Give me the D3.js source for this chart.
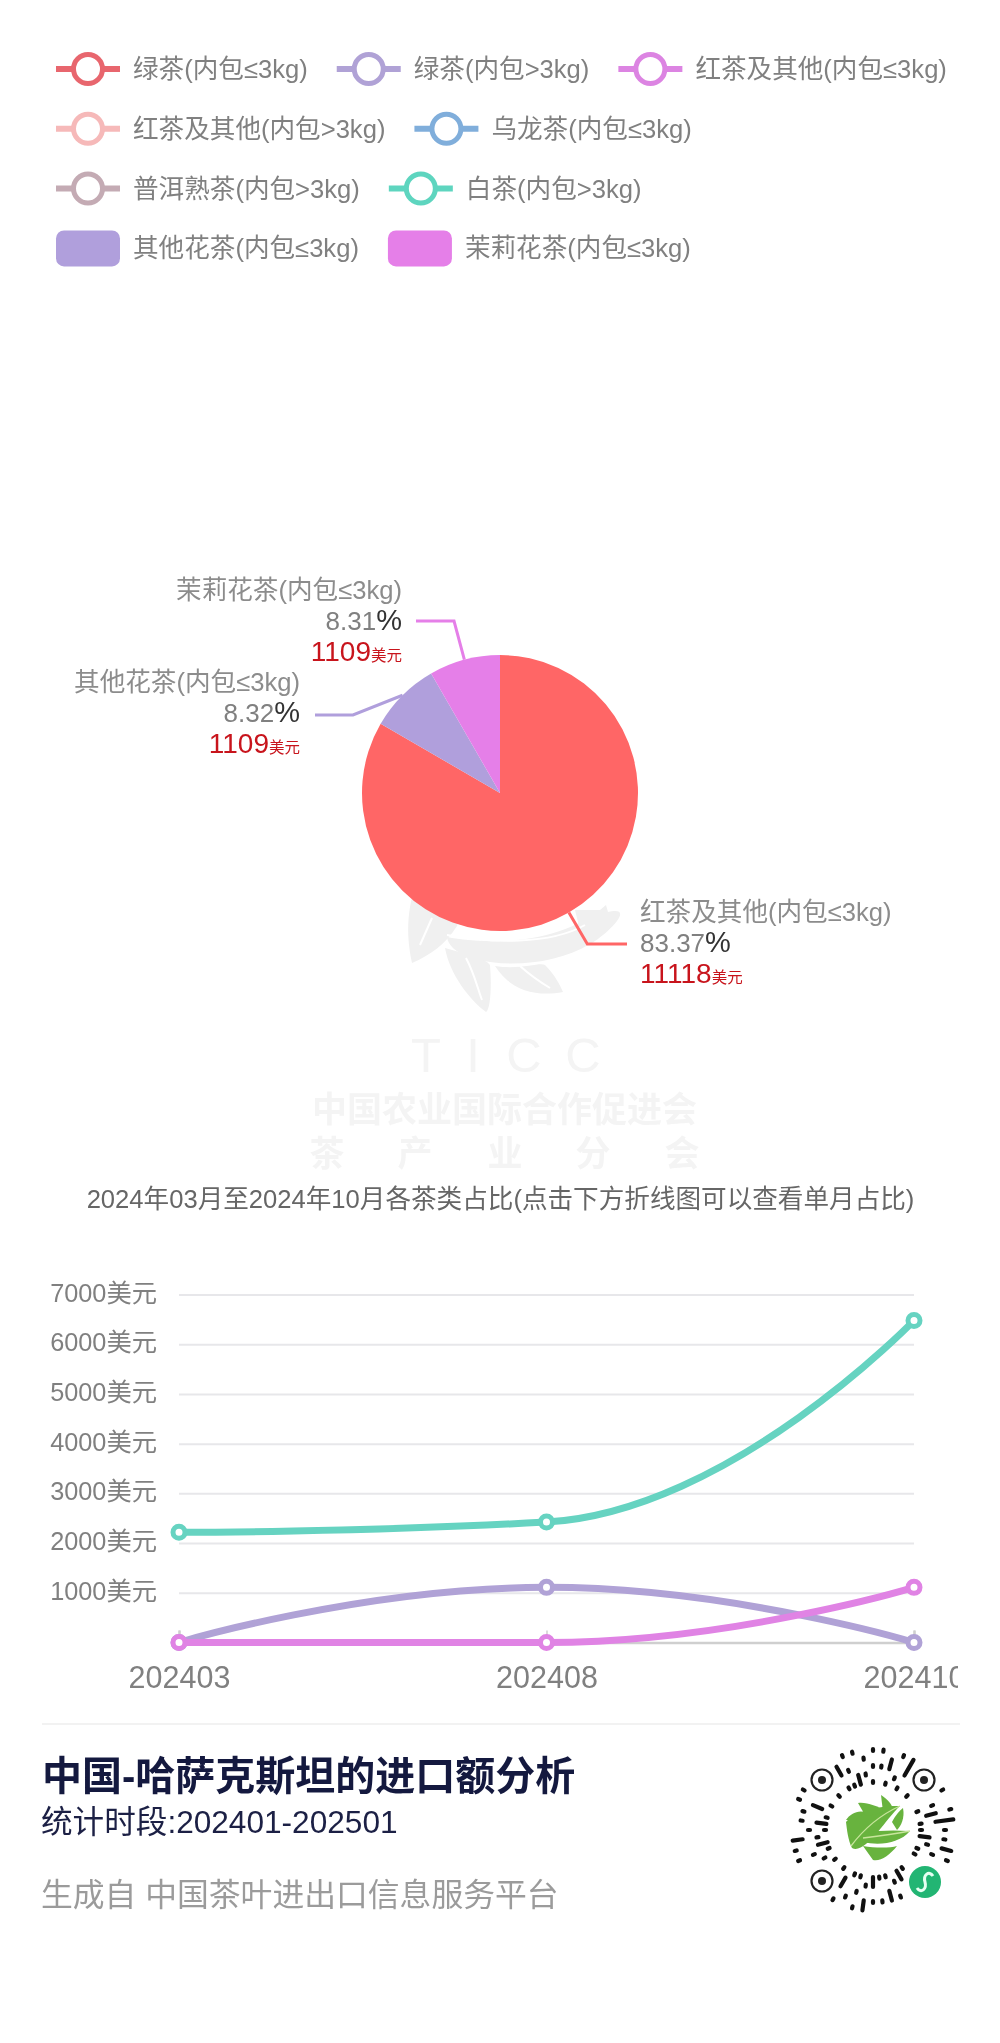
<!DOCTYPE html>
<html><head><meta charset="utf-8">
<script src="https://cdn.jsdelivr.net/npm/d3@7/dist/d3.min.js"></script>
<style>
html,body{margin:0;padding:0;background:#fff}
svg{display:block;filter:blur(0.6px)}
text{font-family:"Liberation Sans","Noto Sans CJK SC",sans-serif}
</style></head><body>
<svg id="c" width="1000" height="2043" viewBox="0 0 1000 2043"></svg>
<script>
// ---------- data ----------
const legendNames = ["绿茶(内包≤3kg)","绿茶(内包>3kg)","红茶及其他(内包≤3kg)","红茶及其他(内包>3kg)","乌龙茶(内包≤3kg)","普洱熟茶(内包>3kg)","白茶(内包>3kg)","其他花茶(内包≤3kg)","茉莉花茶(内包≤3kg)"];
const legendColors = ["#e8666e","#b0a2d6","#dc84e2","#f6b9b9","#80aedb","#c4abb4","#5ed5bf","#b09fdc","#e57fe8"];
const legendKinds = ["line","line","line","line","line","line","line","area","area"];

const pieNames = ["红茶及其他(内包≤3kg)","其他花茶(内包≤3kg)","茉莉花茶(内包≤3kg)"];
const pieValues = [11118,1109,1109];
const piePercents = ["83.37","8.32","8.31"];
const pieColors = ["#ff6666","#b09fdc","#e57fe8"];

const months = ["202403","202408","202410"];
const yTicks = [1000,2000,3000,4000,5000,6000,7000];
const tealSeries = [2216,2423,6479];
const purpleSeries = [0,1109,0];
const pinkSeries = [0,0,1109];

const chartTitle = "2024年03月至2024年10月各茶类占比(点击下方折线图可以查看单月占比)";
const footerTitle = "中国-哈萨克斯坦的进口额分析";
const footerPeriod = "统计时段:202401-202501";
const footerSource = "生成自 中国茶叶进出口信息服务平台";

// ---------- setup ----------
const svg = d3.select("#c");
const GREY = "#808080";

// Smooth curve whose tangents at inner points are clamped between the neighbouring values.
function curveClamped(context){
  const S = 0.5; let pts = [];
  const clamp = (v,a,b)=>Math.max(Math.min(a,b),Math.min(Math.max(a,b),v));
  return {
    areaStart(){}, areaEnd(){},
    lineStart(){ pts=[]; },
    point(x,y){ pts.push([x,y]); },
    lineEnd(){
      const n=pts.length; const before=[],after=[];
      pts.forEach((p,j)=>{
        if(j===0||j===n-1){ before[j]=p; after[j]=p; return; }
        const a=pts[j-1], b=pts[j+1];
        const lp=Math.abs(p[0]-a[0]), ln=Math.abs(b[0]-p[0]);
        const vx=b[0]-a[0]; let vy=b[1]-a[1];
        const rn=ln/(lp+ln), rp=lp/(lp+ln);
        let ny=clamp(p[1]+vy*S*rn,p[1],b[1]);
        let py=clamp(p[1]-(ny-p[1])*lp/ln,a[1],p[1]);
        ny=p[1]-(py-p[1])*ln/lp;
        before[j]=[p[0]-vx*S*rp,py]; after[j]=[p[0]+vx*S*rn,ny];
      });
      context.moveTo(pts[0][0],pts[0][1]);
      for(let j=0;j<n-1;j++){
        context.bezierCurveTo(after[j][0],after[j][1],before[j+1][0],before[j+1][1],pts[j+1][0],pts[j+1][1]);
      }
    }
  };
}

// ---------- legend ----------
(function(){
  const g = svg.append("g");
  let x = 56, row = 0;
  legendNames.forEach((name,i)=>{
    const t = g.append("text").attr("font-size",25.6).attr("fill",GREY).text(name);
    const w = t.node().getComputedTextLength();
    const kind = legendKinds[i];
    const iconW = 64, pad = kind==="area" ? 13 : 13;
    if (x + iconW + pad + w > 965 || (i>0 && kind!==legendKinds[i-1])) { x = 56; row++; }
    const cy = 69 + row*59.8;
    t.attr("x", x+iconW+pad).attr("y", cy+9);
    if (kind==="line"){
      g.append("line").attr("x1",x).attr("x2",x+iconW).attr("y1",cy).attr("y2",cy)
        .attr("stroke",legendColors[i]).attr("stroke-width",6);
      g.append("circle").attr("cx",x+iconW/2).attr("cy",cy).attr("r",14.5)
        .attr("fill","#fff").attr("stroke",legendColors[i]).attr("stroke-width",5);
    } else {
      g.append("rect").attr("x",x).attr("y",cy-18).attr("width",iconW).attr("height",36)
        .attr("rx",8).attr("fill",legendColors[i]);
    }
    x += iconW + pad + w + 29;
  });
})();

// ---------- watermark ----------
(function(){
  const g = svg.append("g");
  const wm = "#f0f0f0";
  const leaves = [
    "M412,963 C405,930 408,905 418,878 C440,900 465,915 457,926 C445,945 430,955 412,963 Z",
    "M447,937 C490,945 560,945 606,905 L608,912 C640,905 600,940 590,944 C555,965 505,968 470,958 C455,952 448,945 447,937 Z",
    "M445,948 C470,955 485,958 490,965 C492,990 490,1010 486,1012 C470,1000 450,975 445,948 Z",
    "M495,966 C520,970 540,962 545,965 C555,975 560,985 563,992 C535,997 510,990 495,966 Z",
    "M575,910 L607,910 C600,925 590,935 582,938 Z"
  ];
  g.selectAll("path.leaf").data(leaves).join("path").attr("d",d=>d).attr("fill",wm);
  ["M420,945 L432,918","M466,958 C475,975 478,990 482,1000","M520,966 C530,975 540,982 550,988","M447,935 C490,943 550,945 585,925"].forEach(d=>{
    g.append("path").attr("d",d).attr("fill","none").attr("stroke","#fff").attr("stroke-width",2);
  });
  [[426,"T"],[473,"I"],[524,"C"],[583,"C"]].forEach(([x,s])=>{
    g.append("text").attr("x",x).attr("y",1072).attr("text-anchor","middle")
      .attr("font-size",49).attr("fill","#f4f4f4").text(s);
  });
  g.append("text").attr("x",312).attr("y",1122).attr("font-size",35).attr("font-weight",700)
    .attr("fill","#f4f4f4").text("中国农业国际合作促进会");
  [[327,"茶"],[415,"产"],[505,"业"],[593,"分"],[682,"会"]].forEach(([x,s])=>{
    g.append("text").attr("x",x).attr("y",1166).attr("text-anchor","middle")
      .attr("font-size",35).attr("font-weight",700).attr("fill","#f4f4f4").text(s);
  });
})();

// ---------- pie ----------
(function(){
  const cx=500, cy=793, R=138;
  const g = svg.append("g");
  const arcs = d3.pie().sort(null)(pieValues);
  const arc = d3.arc().innerRadius(0).outerRadius(R);
  g.append("g").attr("transform",`translate(${cx},${cy})`)
    .selectAll("path").data(arcs).join("path").attr("d",arc)
    .attr("fill",(d,i)=>pieColors[i]);

  const layout = [
    {elbowY:944, elbowR:175, endX:627, textX:640, anchor:"start", base:921},
    {elbowY:715, elbowR:null,elbowX:353, endX:315, textX:300, anchor:"end", base:691},
    {elbowY:621, elbowR:178, endX:416, textX:402, anchor:"end", base:599}
  ];
  arcs.forEach((a,i)=>{
    const mid=(a.startAngle+a.endAngle)/2, L=layout[i];
    const sx=cx+R*Math.sin(mid), sy=cy-R*Math.cos(mid);
    const ex=L.elbowR ? cx+L.elbowR*Math.sin(mid) : L.elbowX;
    g.append("path").attr("d",d3.line()([[sx,sy],[ex,L.elbowY],[L.endX,L.elbowY]]))
      .attr("fill","none").attr("stroke",pieColors[i]).attr("stroke-width",3);
    g.append("text").attr("x",L.textX).attr("y",L.base).attr("text-anchor",L.anchor)
      .attr("font-size",25.6).attr("fill","#8c8c8c").text(pieNames[i]);
    const p=g.append("text").attr("x",L.textX).attr("y",L.base+31).attr("text-anchor",L.anchor);
    p.append("tspan").attr("font-size",26).attr("fill","#808080").text(piePercents[i]);
    p.append("tspan").attr("font-size",29).attr("fill","#333").text("%");
    const v=g.append("text").attr("x",L.textX).attr("y",L.base+62).attr("text-anchor",L.anchor);
    v.append("tspan").attr("font-size",28).attr("fill","#c8141c").text(pieValues[i]);
    v.append("tspan").attr("font-size",15.5).attr("fill","#c8141c").text("美元");
  });
})();

// ---------- chart title ----------
svg.append("text").attr("x",500.5).attr("y",1208).attr("text-anchor","middle")
  .attr("font-size",25.6).attr("fill","#666").text(chartTitle);

// ---------- line chart ----------
(function(){
  const x = d3.scalePoint().domain(months).range([179,914]);
  const y = d3.scaleLinear().domain([0,7000]).range([1642.5,1294.5]);
  svg.append("defs").append("clipPath").attr("id","clip").append("rect")
    .attr("x",0).attr("y",1250).attr("width",958).attr("height",470);
  const g = svg.append("g").attr("clip-path","url(#clip)");

  const grid = g.append("g").attr("transform","translate(179,0)")
    .call(d3.axisLeft(y).tickValues(yTicks).tickSize(-735).tickFormat(d=>d+"美元"));
  grid.select(".domain").remove();
  grid.selectAll(".tick line").attr("stroke","#e7e7ea").attr("stroke-width",2);
  grid.selectAll(".tick text").attr("x",-22).attr("dy","0.26em").attr("font-size",25.3)
    .attr("font-family",null).attr("fill",GREY);

  const xa = g.append("g").attr("transform","translate(0,1642.5)")
    .call(d3.axisBottom(x).tickSize(-12).tickPadding(24));
  xa.select(".domain").attr("stroke","#cfcfcf").attr("stroke-width",2.5);
  xa.selectAll(".tick line").attr("stroke","#cfcfcf").attr("stroke-width",1.5);
  xa.selectAll(".tick text").attr("font-size",30.5).attr("font-family",null).attr("fill",GREY);

  const line = d3.line().x((d,i)=>x(months[i])).y(d=>y(d)).curve(curveClamped);
  [[purpleSeries,"#b0a2d6"],[tealSeries,"#66d3c1"],[pinkSeries,"#e083e4"]].forEach(([s,c])=>{
    g.append("path").attr("d",line(s)).attr("fill","none").attr("stroke",c).attr("stroke-width",7);
    g.selectAll(null).data(s).join("circle")
      .attr("cx",(d,i)=>x(months[i])).attr("cy",d=>y(d)).attr("r",6)
      .attr("fill","#fff").attr("stroke",c).attr("stroke-width",5);
  });
})();

// ---------- footer ----------
svg.append("line").attr("x1",42).attr("x2",960).attr("y1",1724).attr("y2",1724)
  .attr("stroke","#f2f2f2").attr("stroke-width",2);
svg.append("text").attr("x",42).attr("y",1790).attr("font-size",40).attr("font-weight",700)
  .attr("fill","#14193f").text(footerTitle);
svg.append("text").attr("x",41).attr("y",1833).attr("font-size",31.6).attr("fill","#1c2045").text(footerPeriod);
svg.append("text").attr("x",41).attr("y",1906).attr("font-size",31.8).attr("fill","#9b9b9b").text(footerSource);

// ---------- mini-program code ----------
(function(){
  const cx=873, cy=1830;
  const g = svg.append("g");
  // one pattern per spoke, clockwise from the top; '#' is a dash, '.' a gap, inner to outer
  const spokes = [
    "#.#.#","..#.#","#.##.",".#..#","#.###","##.#.","#..##",".#.#.","###.#","#.#..",
    ".##.#","#.###","#..#.","##.#.",".#.##","#.#.#","#..#.","#####",".#.#.","#.#.#",
    "##..#",".#.#.","#.##.","#..#.","##.#.",".#.##","#.#.#","#..#.",".##.#","#.#.#",
    "###.#","#..##",".#.#.","#.#.#","##..#",".#.##","#.#..","##.#.","#..#.",".##.#",
    "#.#.#","##.#.","#..##",".#.#.","#.##.","#.#.#","##..#",".#.#."
  ];
  const finders=[[822,1780],[924,1780],[822,1881]];
  const r0=47, step=8;
  spokes.forEach((p,k)=>{
    const a=k/spokes.length*2*Math.PI;
    (p.match(/#+|\.+/g)||[]).reduce((pos,run)=>{
      if(run[0]==="#"){
        const rr=r0+pos*step, L=(run.length-1)*step+2;
        const x1=cx+rr*Math.sin(a), y1=cy-rr*Math.cos(a);
        const x2=cx+(rr+L)*Math.sin(a), y2=cy-(rr+L)*Math.cos(a);
        const far=([fx,fy],d)=>Math.hypot(x1-fx,y1-fy)>d&&Math.hypot(x2-fx,y2-fy)>d;
        if(finders.every(f=>far(f,19))&&far([925,1882],23)){
          g.append("line").attr("x1",x1).attr("y1",y1).attr("x2",x2).attr("y2",y2)
            .attr("stroke","#111").attr("stroke-width",4.2).attr("stroke-linecap","round");
        }
      }
      return pos+run.length;
    },0);
  });
  finders.forEach(([x,y])=>{
    g.append("circle").attr("cx",x).attr("cy",y).attr("r",10.5).attr("fill","#fff").attr("stroke","#222").attr("stroke-width",2.2);
    g.append("circle").attr("cx",x).attr("cy",y).attr("r",4).attr("fill","#222");
  });
  const lg=g.append("g").attr("transform","translate(5,0)");
  const leaves=[
    "M841,1822 C850,1810 880,1805 895,1806 C880,1820 860,1855 847,1848 C843,1840 842,1830 841,1822 Z",
    "M853,1803 C862,1802 872,1806 880,1811 C870,1815 865,1816 860,1815 Z",
    "M876,1795 C884,1800 888,1806 888,1811 L878,1812 Z",
    "M841,1820 C845,1814 852,1810 860,1812 L850,1820 Z",
    "M857,1833 C875,1830 890,1830 905,1831 C895,1843 875,1846 858,1842 Z",
    "M858,1846 C870,1848 885,1848 892,1846 C885,1855 875,1862 868,1860 Z",
    "M887,1822 C890,1816 895,1810 898,1808 C900,1818 896,1826 892,1830 Z"
  ];
  lg.selectAll("path.l").data(leaves).join("path").attr("d",d=>d).attr("fill","#68b33e");
  lg.append("path").attr("d","M846,1846 C858,1830 875,1815 895,1806").attr("fill","none").attr("stroke","#c8e59c").attr("stroke-width",1.3);
  lg.append("path").attr("d","M858,1838 C875,1836 890,1834 905,1831").attr("fill","none").attr("stroke","#c8e59c").attr("stroke-width",1.3);
  g.append("circle").attr("cx",925).attr("cy",1882).attr("r",16).attr("fill","#22b573");
  g.append("path").attr("d","M917,1888 C921,1894 927,1889 925,1882 C923,1875 929,1870 933,1876")
    .attr("fill","none").attr("stroke","#e6fff2").attr("stroke-width",3);
})();
</script>
</body></html>
